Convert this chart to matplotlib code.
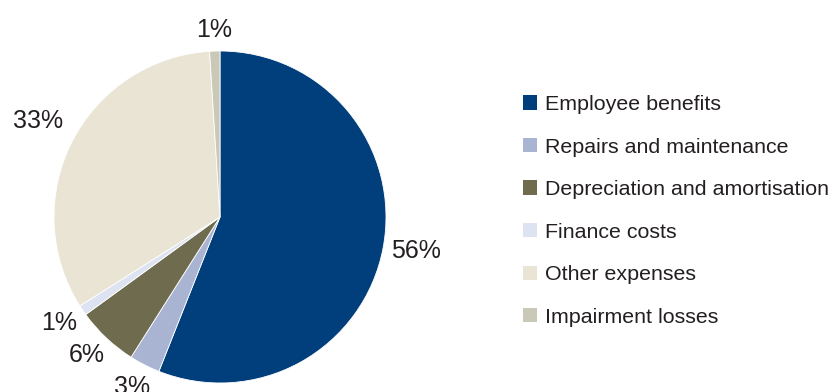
import numpy as np
import matplotlib.pyplot as plt
from matplotlib.patches import Patch

plt.rcParams["font.family"] = ["Liberation Sans", "DejaVu Sans"]

# Expense breakdown (per cent of total)
categories = [
    "Employee benefits",
    "Repairs and maintenance",
    "Depreciation and amortisation",
    "Finance costs",
    "Other expenses",
    "Impairment losses",
]
shares = [56, 3, 6, 1, 33, 1]
colors = ["#003E7C", "#A9B3D2", "#6E6B4E", "#DDE3F1", "#E9E4D4", "#CAC8B6"]

W, H = 832, 392
fig = plt.figure(figsize=(W / 100, H / 100), dpi=100)

# pie centred at (220, 175) px from bottom-left
cx, cy, r = 220, 175, 166
ax = fig.add_axes([(cx - r) / W, (cy - r) / H, 2 * r / W, 2 * r / H])

wedges, texts, autotexts = ax.pie(
    shares,
    colors=colors,
    startangle=90,
    counterclock=False,
    autopct="%.0f%%",
    pctdistance=1.2,
    wedgeprops=dict(edgecolor="white", linewidth=0.6),
    textprops=dict(fontsize=18, color="#231F20"),
)

# nudge each percentage label along its wedge's bisector
label_dist = [1.2, 1.17, 1.17, 1.17, 1.23, 1.11]
for w, t, d in zip(wedges, autotexts, label_dist):
    ang = np.deg2rad((w.theta1 + w.theta2) / 2)
    t.set_position((d * np.cos(ang), d * np.sin(ang) + 0.02))

ax.set_xlim(-1, 1)
ax.set_ylim(-1, 1)
ax.set_aspect("equal")
ax.axis("off")

handles = [Patch(facecolor=c, edgecolor="none") for c in colors]
fig.legend(
    handles,
    categories,
    loc="center left",
    bbox_to_anchor=(523 / W, 0.462),
    frameon=False,
    fontsize=15.4,
    labelcolor="#231F20",
    handlelength=0.65,
    handleheight=0.65,
    handletextpad=0.38,
    labelspacing=1.1,
    borderpad=0,
    borderaxespad=0,
)

fig.savefig("out.png", dpi=100, facecolor="white")
